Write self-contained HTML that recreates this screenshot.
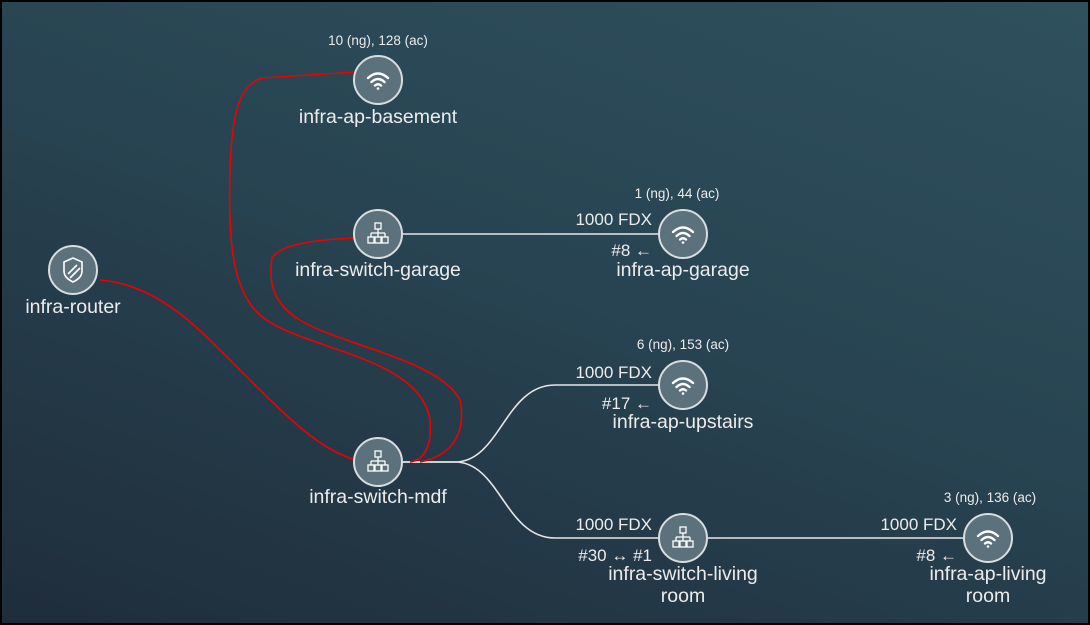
<!DOCTYPE html>
<html><head><meta charset="utf-8"><style>
html,body{margin:0;padding:0}
body{width:1090px;height:625px;overflow:hidden;font-family:"Liberation Sans",sans-serif}
.bg{position:absolute;left:0;top:0;width:1086px;height:621px;border:2px solid #000;background:linear-gradient(200deg,#2f505d 0%,#284452 45%,#1f2d3b 100%)}
</style></head><body><div class="bg"></div>
<svg width="1090" height="625" style="position:absolute;left:0;top:0" font-family="Liberation Sans, sans-serif">
<defs>
<g id="wifi" stroke="#fff" stroke-width="2.4" fill="none" stroke-linecap="round"><path d="M-10,-2 Q0,-11 10,-2"/><path d="M-6.5,2 Q0,-4 6.5,2"/><path d="M-3,5.5 Q0,3 3,5.5"/><circle cx="0" cy="8.5" r="1.3" fill="#fff" stroke="none"/></g>
<g id="sw" stroke="#fff" stroke-width="1.3" fill="none"><rect x="-3" y="-11" width="6" height="6"/><path d="M0,-5 V-1 M-7,-1 H7 M-7,-1 V3 M0,-1 V3 M7,-1 V3"/><rect x="-10" y="3" width="6" height="6"/><rect x="-3" y="3" width="6" height="6"/><rect x="4" y="3" width="6" height="6"/></g>
</defs>
<g stroke="#e6e6e6" stroke-width="1.6" fill="none">
<path d="M402,234 H660"/>
<path d="M402,462 H455 C500,462 505,385 555,385 H660"/>
<path d="M402,462 H455 C500,462 505,538 555,538 H660"/>
<path d="M707,538 H964"/>
</g>
<g stroke="#e00" stroke-width="1.6" fill="none">
<path d="M100,280 C160,285 200,330 240,370 C290,420 320,450 356,460"/>
<path d="M355,72 L262,78 C240,85 232,110 230,170 C228,240 232,290 260,315 C300,350 420,355 430,420 C432,445 425,460 410,462"/>
<path d="M354,238 C310,240 280,245 272,258 C268,285 275,305 300,320 C340,345 440,360 460,400 C466,430 455,455 420,462"/>
</g>
<g fill="#5b717c" stroke="#d8dde0" stroke-width="2">
<circle cx="378" cy="80" r="24"/><circle cx="378" cy="234" r="24"/><circle cx="73" cy="270" r="24"/>
<circle cx="683" cy="234" r="24"/><circle cx="683" cy="385" r="24"/><circle cx="378" cy="462" r="24"/>
<circle cx="683" cy="538" r="24"/><circle cx="988" cy="538" r="24"/>
</g>
<use href="#wifi" x="378" y="80"/><use href="#wifi" x="683" y="234"/><use href="#wifi" x="683" y="385"/><use href="#wifi" x="988" y="538"/>
<use href="#sw" x="378" y="234"/><use href="#sw" x="378" y="462"/><use href="#sw" x="683" y="538"/>
<g transform="translate(73,270)" stroke="#fff" stroke-width="1.6" fill="none"><path d="M0,-12 L9,-8 V1 C9,7 4,10 0,12 C-4,10 -9,7 -9,1 V-8 Z"/><path d="M-5,4 L4,-5 M-3,8 L7,-2"/></g>
<g fill="#ececec" font-size="19.5" text-anchor="middle">
<text x="378" y="123">infra-ap-basement</text>
<text x="378" y="276">infra-switch-garage</text>
<text x="73" y="313">infra-router</text>
<text x="683" y="276">infra-ap-garage</text>
<text x="683" y="428">infra-ap-upstairs</text>
<text x="378" y="503">infra-switch-mdf</text>
<text x="683" y="580">infra-switch-living</text>
<text x="683" y="602">room</text>
<text x="988" y="580">infra-ap-living</text>
<text x="988" y="602">room</text>
</g>
<g fill="#ececec" font-size="13.5" text-anchor="middle">
<text x="378" y="45">10 (ng), 128 (ac)</text>
<text x="677" y="198">1 (ng), 44 (ac)</text>
<text x="683" y="349">6 (ng), 153 (ac)</text>
<text x="990" y="502">3 (ng), 136 (ac)</text>
</g>
<g fill="#ececec" font-size="17" text-anchor="end">
<text x="652" y="225">1000  FDX</text><text x="652" y="256">#8 ←</text>
<text x="652" y="378">1000  FDX</text><text x="652" y="409">#17 ←</text>
<text x="652" y="530">1000  FDX</text><text x="652" y="561">#30 ↔ #1</text>
<text x="957" y="530">1000  FDX</text><text x="957" y="561">#8 ←</text>
</g>
</svg>
</body></html>
